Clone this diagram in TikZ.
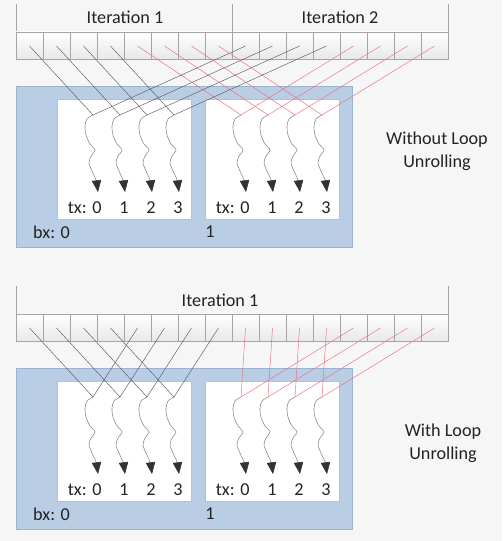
\documentclass[tikz,border=0pt]{standalone}
\usepackage{fontspec}
\setmainfont{Carlito}
\usetikzlibrary{arrows.meta}
\definecolor{bgcol}{RGB}{246,246,246}
\definecolor{blockblue}{RGB}{185,205,229}
\definecolor{blockedge}{RGB}{155,180,210}
\definecolor{cellgray}{RGB}{165,165,165}
\definecolor{textgray}{RGB}{35,35,35}
\definecolor{mapred}{RGB}{232,115,130}
\definecolor{mapblack}{RGB}{95,95,95}
\definecolor{threadgray}{RGB}{140,140,140}
\tikzset{
  cell/.style={draw=cellgray, top color=white, bottom color=black!9, line width=0.5pt},
  block/.style={draw=blockedge, fill=blockblue, line width=0.6pt},
  warp/.style={draw=black!25, fill=white, line width=0.6pt},
  lbl/.style={text=textgray, inner sep=0pt, font=\fontsize{15.5}{19.5}\selectfont},
  mapk/.style={draw=mapblack, line width=0.4pt},
  mapr/.style={draw=mapred, line width=0.4pt},
  thread/.style={draw=threadgray, line width=0.5pt, -{Triangle[length=10pt,width=8pt,color=black!80]}}
}
% array, thread blocks and labels, #1 = name prefix
\newcommand{\kernelgrid}[1]{%
  \draw[cellgray] (16,4) -- (16,32) (448,4) -- (448,32);
  \foreach \i in {0,...,15} {
    \draw[cell] (16+27*\i,32) rectangle ++(27,27);
    \coordinate (#1c\i) at (29.5+27*\i,46);
  }
  \draw[block] (16,86) rectangle (352,247);
  \foreach \blk/\lft in {0/57,1/205} {
    \draw[warp] (\lft,99) rectangle ++(134,120);
    \foreach \k in {0,...,3} {
      \coordinate (#1t\blk\k) at (\lft+36+27*\k,115);
      \draw[thread, shift={(\lft+36+27*\k,115)}] plot[smooth] coordinates
        {(0,0) (-6,4) (-8,11) (-7,20) (-3,29) (2,35) (-2,41) (-4,48) (-1,56) (3,65) (5,77)};
      \node[lbl] (#1n\blk\k) at (\lft+40+27*\k,208) {\k};
    }
    \node[lbl, anchor=base east] (#1tx\blk) at ([xshift=-4.5pt]#1n\blk0.base west) {tx:};
  }
  \node[lbl, anchor=west] (#1bx0) at (33,232) {bx: 0};
  \node[lbl] (#1bx1) at (210,232) {1};
}
\begin{document}
\begin{tikzpicture}[x=0.03cm, y=-0.03cm]
\fill[bgcol] (0,0) rectangle (502,541);
\useasboundingbox (0,0) rectangle (502,541);
% without loop unrolling
\kernelgrid{A}
\draw[cellgray] (232,4) -- (232,32);
\node[lbl] (Ait1) at (125,17) {Iteration 1};
\node[lbl] (Ait2) at (340,17) {Iteration 2};
\foreach \k/\m/\n/\p in {0/4/8/12,1/5/9/13,2/6/10/14,3/7/11/15} {
  \draw[mapk] (Ac\k) -- (At0\k);
  \draw[mapr] (Ac\m) -- (At1\k);
  \draw[mapk] (Ac\n) -- (At0\k);
  \draw[mapr] (Ac\p) -- (At1\k);
}
\node[lbl, align=center] (Anote) at (437,151) {Without Loop\\Unrolling};
% with loop unrolling
\begin{scope}[shift={(0,282)}]
  \kernelgrid{B}
  \node[lbl] (Bit1) at (220,18) {Iteration 1};
  \foreach \k/\m/\n/\p in {0/4/8/12,1/5/9/13,2/6/10/14,3/7/11/15} {
    \draw[mapk] (Bc\k) -- (Bt0\k);
    \draw[mapk] (Bc\m) -- (Bt0\k);
    \draw[mapr] (Bc\n) -- (Bt1\k);
    \draw[mapr] (Bc\p) -- (Bt1\k);
  }
  \node[lbl, align=center] (Bnote) at (443,161) {With Loop\\Unrolling};
\end{scope}
\end{tikzpicture}
\end{document}
